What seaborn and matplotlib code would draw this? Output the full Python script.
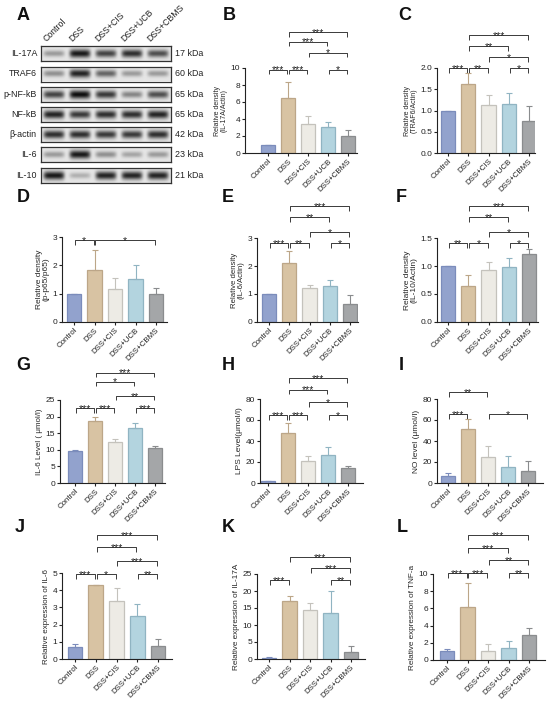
import numpy as np
import pandas as pd
import matplotlib
matplotlib.use("Agg")
import matplotlib.pyplot as plt
import seaborn as sns
from matplotlib.transforms import blended_transform_factory

sns.set_theme(style="ticks")
plt.rcParams['font.family'] = ['Liberation Sans', 'DejaVu Sans']

# ---------------- data ----------------
groups = ['Control', 'DSS', 'DSS+CIS', 'DSS+UCB', 'DSS+CBMS']
fills = ['#92A2CD', '#D8C3A3', '#EDEBE5', '#B3D4DF', '#A4A6A8']
edges = ['#7B8CBB', '#BCA688', '#C4C2BC', '#90B4C2', '#8A8C8E']

blot_proteins = ['IL-17A', 'TRAF6', 'p-NF-kB', 'NF-kB', 'β-actin', 'IL-6', 'IL-10']
blot_kda = ['17 kDa', '60 kDa', '65 kDa', '65 kDa', '42 kDa', '23 kDa', '21 kDa']
blot_il17a = [0.35, 0.95, 0.75, 0.85, 0.70]
blot_traf6 = [0.40, 0.90, 0.60, 0.35, 0.35]
blot_pnfkb = [0.75, 1.00, 0.80, 0.45, 0.70]
blot_nfkb = [0.90, 0.80, 0.85, 0.85, 0.90]
blot_actin = [0.85, 0.85, 0.80, 0.80, 0.85]
blot_il6 = [0.35, 0.95, 0.40, 0.30, 0.35]
blot_il10 = [0.95, 0.25, 0.90, 0.90, 0.90]

b_mean = [1.0, 6.5, 3.4, 3.05, 2.05];  b_err = [0, 1.9, 1.0, 0.55, 0.65]
c_mean = [1.0, 1.62, 1.13, 1.15, 0.75]; c_err = [0, 0.26, 0.23, 0.27, 0.35]
d_mean = [1.0, 1.85, 1.18, 1.52, 0.98]; d_err = [0, 0.70, 0.39, 0.50, 0.22]
e_mean = [1.0, 2.1, 1.22, 1.3, 0.65];   e_err = [0, 0.45, 0.10, 0.20, 0.32]
f_mean = [1.0, 0.65, 0.92, 0.98, 1.21]; f_err = [0, 0.19, 0.16, 0.17, 0.10]
g_mean = [9.6, 18.6, 12.3, 16.5, 10.5]; g_err = [0.2, 1.2, 1.0, 1.7, 0.7]
h_mean = [1.5, 48, 20.5, 26.5, 14];     h_err = [0.5, 9, 5.5, 7.5, 2]
i_mean = [6.5, 51.5, 25, 15, 11];       i_err = [3.5, 9.5, 10, 10.5, 9.5]
j_mean = [0.68, 4.28, 3.35, 2.48, 0.75]; j_err = [0.22, 0.05, 0.75, 0.72, 0.40]
k_mean = [0.4, 17.2, 14.5, 13.5, 2.0];  k_err = [0.3, 1.4, 2.1, 6.6, 1.8]
l_mean = [1.0, 6.2, 1.05, 1.45, 2.95];  l_err = [0.25, 2.8, 0.8, 0.75, 0.8]

b_ylabel = 'Relative density\n(IL-17A/Actin)'
c_ylabel = 'Relative density\n(TRAF6/Actin)'
d_ylabel = 'Relative density\n(p-p65/p65)'
e_ylabel = 'Relative density\n(IL-6/Actin)'
f_ylabel = 'Relative density\n(IL-10/Actin)'
g_ylabel = 'IL-6 Level ( μmol/l)'
h_ylabel = 'LPS Level(μmol/l)'
i_ylabel = 'NO level (μmol/l)'
j_ylabel = 'Relative expression of IL-6'
k_ylabel = 'Relative expression of IL-17A'
l_ylabel = 'Relative expression of TNF-a'

b_ticks = [0, 2, 4, 6, 8, 10]
c_ticks = [0.0, 0.5, 1.0, 1.5, 2.0]
d_ticks = [0, 1, 2, 3]
e_ticks = [0, 1, 2, 3]
f_ticks = [0.0, 0.5, 1.0, 1.5]
g_ticks = [0, 5, 10, 15, 20, 25]
h_ticks = [0, 20, 40, 60, 80]
i_ticks = [0, 20, 40, 60, 80]
j_ticks = [0, 1, 2, 3, 4, 5]
k_ticks = [0, 5, 10, 15, 20, 25]
l_ticks = [0, 2, 4, 6, 8, 10]

# significance: (from, to, level, label)
b_sig = [(0, 1, 0, '***'), (1, 2, 0, '***'), (3, 4, 0, '*'), (2, 4, 1, '*'), (1, 3, 2, '***'), (1, 4, 3, '***')]
c_sig = [(0, 1, 0, '***'), (1, 2, 0, '**'), (3, 4, 0, '*'), (2, 4, 1, '*'), (1, 3, 2, '**'), (1, 4, 3, '***')]
d_sig = [(0, 1, 0, '*'), (1, 4, 0, '*')]
e_sig = [(0, 1, 0, '***'), (1, 2, 0, '**'), (3, 4, 0, '*'), (2, 4, 1, '*'), (1, 3, 2, '**'), (1, 4, 3, '***')]
f_sig = [(0, 1, 0, '**'), (1, 2, 0, '*'), (3, 4, 0, '*'), (2, 4, 1, '*'), (1, 3, 2, '**'), (1, 4, 3, '***')]
g_sig = [(0, 1, 0, '***'), (1, 2, 0, '***'), (3, 4, 0, '***'), (2, 4, 1, '**'), (1, 3, 2, '*'), (1, 4, 3, '***')]
h_sig = [(0, 1, 0, '***'), (1, 2, 0, '***'), (3, 4, 0, '*'), (2, 4, 1, '*'), (1, 3, 2, '***'), (1, 4, 3, '***')]
i_sig = [(0, 1, 0, '***'), (2, 4, 0, '*'), (0, 2, 1, '**')]
j_sig = [(0, 1, 0, '***'), (1, 2, 0, '*'), (3, 4, 0, '**'), (2, 4, 1, '***'), (1, 3, 2, '***'), (1, 4, 3, '***')]
k_sig = [(0, 1, 0, '***'), (3, 4, 0, '**'), (2, 4, 1, '***'), (1, 4, 2, '***')]
l_sig = [(0, 1, 0, '***'), (1, 2, 0, '***'), (3, 4, 0, '**'), (2, 4, 1, '**'), (1, 3, 2, '***'), (1, 4, 3, '***')]

# ---------------- layout helpers ----------------
W, H = 550, 705
fig = plt.figure(figsize=(W / 100, H / 100), dpi=100)


def px_axes(x0, y0, x1, y1):
    return fig.add_axes([x0 / W, 1 - y1 / H, (x1 - x0) / W, (y1 - y0) / H])


def bracket(ax, i, j, level, label):
    tr = blended_transform_factory(ax.transData, ax.transAxes)
    tick = 0.055
    x1, x2 = i + 0.04, j - 0.04
    ax.plot([x1, x1, x2, x2], [level - tick, level, level, level - tick], transform=tr,
            color='#3a3a3a', lw=0.7, clip_on=False, solid_capstyle='butt')
    ax.text((i + j) / 2, level - 0.045, label, transform=tr, ha='center', va='baseline',
            fontsize=7.5, color='#222222', clip_on=False)


def bar_panel(box, means, errs, ticks, ylabel, sig, levels, ylfs=6):
    left, top, right, bottom, ctrl, cbms = box
    ax = px_axes(left, top, right, bottom)
    df = pd.DataFrame({'group': groups, 'value': means})
    sns.barplot(data=df, x='group', y='value', hue='group', palette=fills, legend=False,
                ax=ax, width=0.7, errorbar=None, linewidth=0.9, saturation=1)
    for p, ec in zip(ax.patches, edges):
        p.set_edgecolor(ec)
    for k in range(5):
        ax.errorbar([k], [means[k]], yerr=[[0], [errs[k]]], fmt='none', ecolor=edges[k],
                    elinewidth=0.8, capsize=2.2, capthick=0.8, zorder=3)
    s = (cbms - ctrl) / 4.0
    ax.set_xlim((left - ctrl) / s, 4 + (right - cbms) / s)
    ax.set_ylim(ticks[0], ticks[-1])
    ax.set_yticks(ticks)
    ax.set_yticklabels([('%g' % t) if isinstance(t, int) else ('%.1f' % t) for t in ticks])
    ax.set_xlabel('')
    ax.set_ylabel(ylabel, fontsize=ylfs, labelpad=2, linespacing=0.95)
    ax.tick_params(axis='y', labelsize=6, length=2.5, width=0.8, pad=1, colors='#222222')
    ax.tick_params(axis='x', labelsize=5.7, length=2.5, width=0.8, pad=1, colors='#222222')
    plt.setp(ax.get_xticklabels(), rotation=45, ha='right', rotation_mode='anchor')
    for sp in ['top', 'right']:
        ax.spines[sp].set_visible(False)
    for sp in ['left', 'bottom']:
        ax.spines[sp].set_linewidth(0.8)
        ax.spines[sp].set_color('#222222')
    ax.set_facecolor('none')
    for (a, b, lv, lab) in sig:
        bracket(ax, a, b, levels[lv], lab)
    return ax


# ---------------- panel A: western blot ----------------
blot_rows = [blot_il17a, blot_traf6, blot_pnfkb, blot_nfkb, blot_actin, blot_il6, blot_il10]
row_tops = [46, 66.5, 87, 107, 127, 147, 168]
bl, br = 41, 171
nx, ny = 130, 16
u = (np.arange(nx) + 0.5) / nx * 5
v = (np.arange(ny) + 0.5) / ny
for name, kda, vals, yt in zip(blot_proteins, blot_kda, blot_rows, row_tops):
    ax = px_axes(bl, yt, br, yt + 15)
    dark = np.zeros((ny, nx))
    for k, val in enumerate(vals):
        hw = 0.16 + 0.12 * val
        px = np.exp(-((u - (k + 0.5)) / 0.40) ** 6)
        py = np.exp(-((v - 0.5) / hw) ** 2)
        dark += val * np.outer(py, px)
    img = 0.90 - 0.85 * np.clip(dark, 0, 1)
    ax.imshow(img, cmap='gray', vmin=0, vmax=1, aspect='auto', extent=(0, 5, 0, 1),
              interpolation='bilinear')
    ax.set_xticks([]); ax.set_yticks([])
    for sp in ax.spines.values():
        sp.set_linewidth(0.9); sp.set_color('#333333')
    fig.text((bl - 4) / W, 1 - (yt + 7.5) / H, name, ha='right', va='center', fontsize=6.4, color='#222222')
    fig.text((br + 4) / W, 1 - (yt + 7.5) / H, kda, ha='left', va='center', fontsize=6.4, color='#222222')
for k, g in enumerate(groups):
    xc = bl + (k + 0.5) * (br - bl) / 5
    fig.text((xc - 6) / W, 1 - 43 / H, g, rotation=45, ha='left', va='bottom', fontsize=6.3,
             rotation_mode='anchor', color='#222222')

# ---------------- bar panels ----------------
# box: left, top, right, bottom, control-centre, cbms-centre (pixels)
bar_panel((245, 68, 357, 153, 268, 348), b_mean, b_err, b_ticks, b_ylabel, b_sig, [0.98, 1.18, 1.31, 1.42], 5)
bar_panel((437, 68, 535, 153, 448, 529), c_mean, c_err, c_ticks, c_ylabel, c_sig, [1.0, 1.13, 1.26, 1.39], 5)
bar_panel((62, 237, 167, 322, 74, 156), d_mean, d_err, d_ticks, d_ylabel, d_sig, [0.96], 6)
bar_panel((257, 238, 358, 322, 269, 350), e_mean, e_err, e_ticks, e_ylabel, e_sig, [0.94, 1.07, 1.25, 1.38], 5.6)
bar_panel((437, 238, 538, 322, 448, 529), f_mean, f_err, f_ticks, f_ylabel, f_sig, [0.94, 1.07, 1.25, 1.38], 6)
bar_panel((60, 400, 165, 483, 75, 155), g_mean, g_err, g_ticks, g_ylabel, g_sig, [0.90, 1.05, 1.22, 1.33], 5.8)
bar_panel((260, 399, 363, 483, 268, 348), h_mean, h_err, h_ticks, h_ylabel, h_sig, [0.81, 0.96, 1.11, 1.25], 6)
bar_panel((437, 399, 543, 483, 448, 528), i_mean, i_err, i_ticks, i_ylabel, i_sig, [0.82, 1.08], 6)
bar_panel((62, 573, 172, 659, 75, 158), j_mean, j_err, j_ticks, j_ylabel, j_sig, [0.99, 1.14, 1.30, 1.44], 5.8)
bar_panel((257, 574, 365, 659, 269, 351), k_mean, k_err, k_ticks, k_ylabel, k_sig, [0.93, 1.07, 1.20], 5.9)
bar_panel((433, 574, 545, 660, 447, 529), l_mean, l_err, l_ticks, l_ylabel, l_sig, [1.01, 1.16, 1.30, 1.45], 5.9)

# ---------------- panel letters ----------------
letters = [('A', 23, 16), ('B', 229, 16), ('C', 405, 16),
           ('D', 23, 198), ('E', 228, 197), ('F', 401, 197),
           ('G', 23, 365), ('H', 228, 365), ('I', 401, 365),
           ('J', 20, 528), ('K', 228, 528), ('L', 402, 528)]
for t, x, y in letters:
    fig.text(x / W, 1 - y / H, t, ha='center', va='center', fontsize=13, fontweight='bold', color='#111111')

fig.savefig('out.png', dpi=100, facecolor='white')
